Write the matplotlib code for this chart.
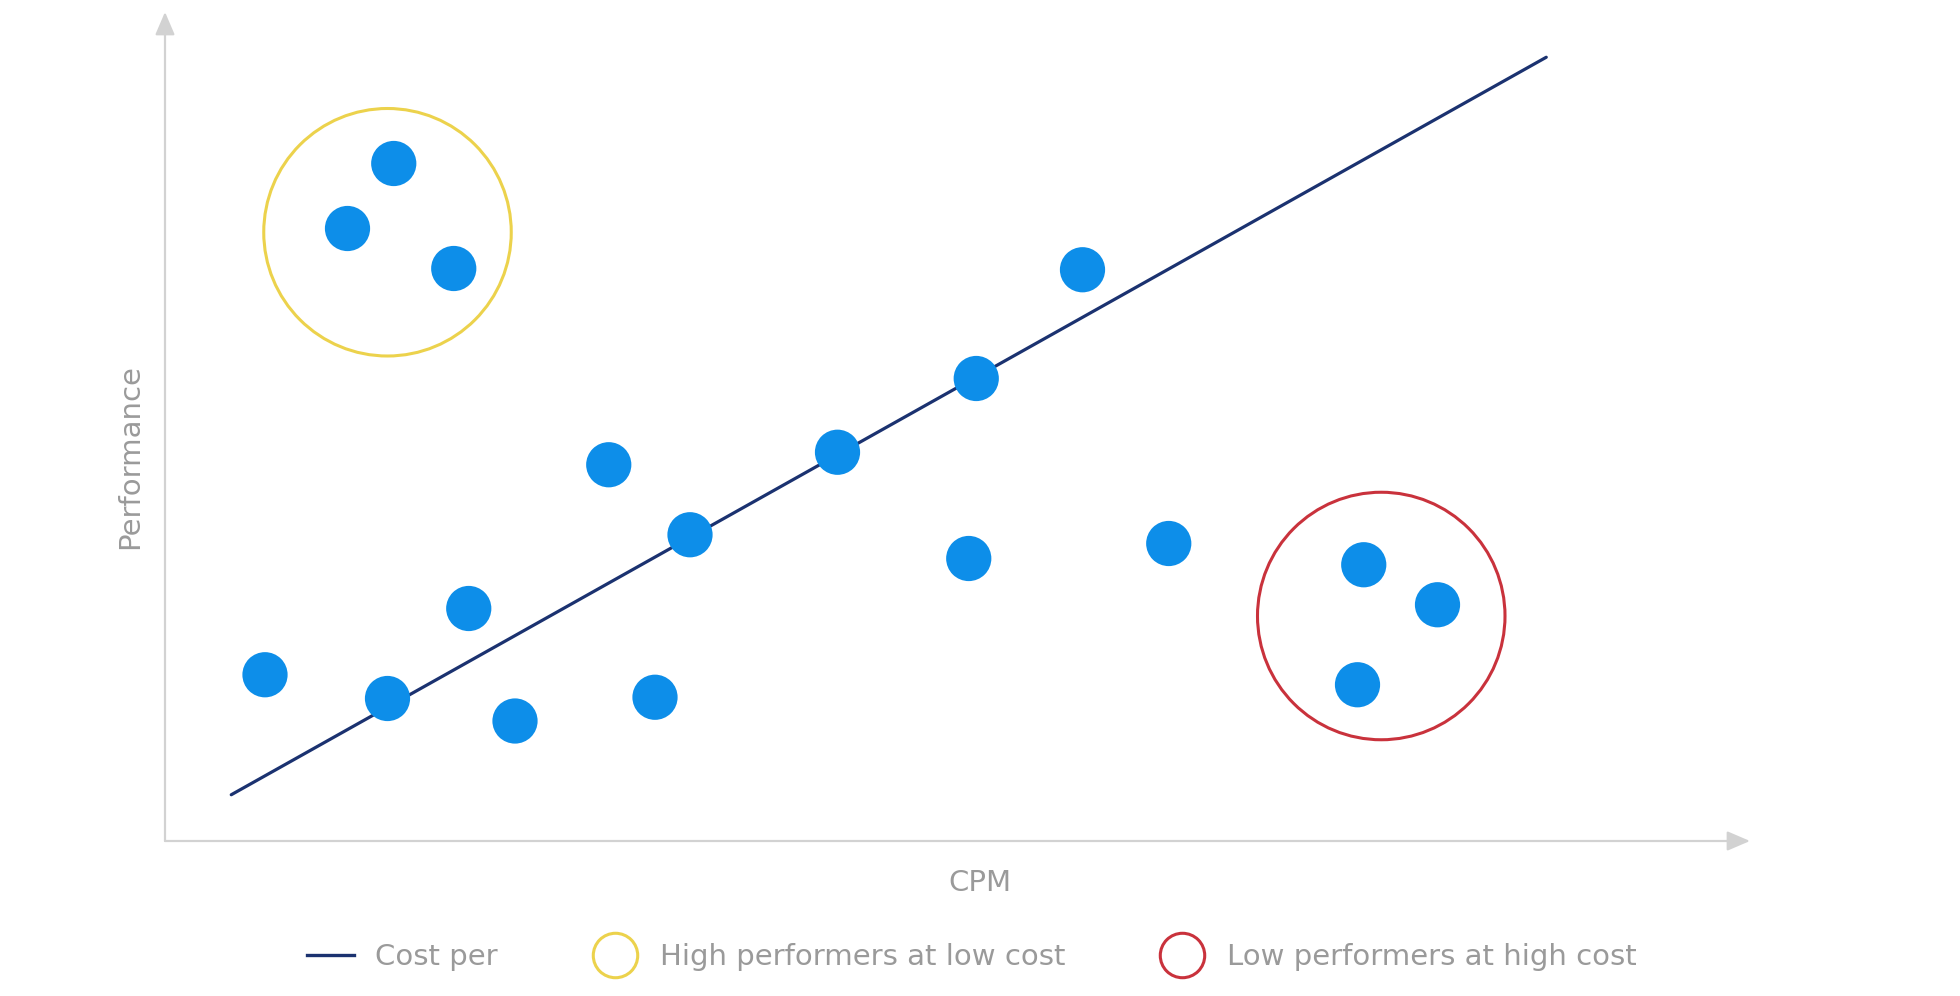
import matplotlib.pyplot as plt
from matplotlib.patches import Circle
from matplotlib.lines import Line2D

# data (arbitrary units, origin at the axis corner)
cpm = [18.3, 14.6, 23.1, 73.4, 64.9, 53.8, 35.5, 42.0, 64.3, 80.3,
       24.3, 8.0, 17.8, 28.0, 39.2, 95.9, 101.8, 95.4]
perf = [54.2, 49.0, 45.8, 45.7, 37.0, 31.1, 30.1, 24.5, 22.6, 23.8,
        18.6, 13.3, 11.4, 9.6, 11.5, 22.1, 18.9, 12.5]

trend_x = [5.3, 110.5]
trend_y = [3.7, 62.7]

groups = ["High performers at low cost", "Low performers at high cost"]
group_cx = [17.8, 97.3]
group_cy = [48.7, 18.0]
group_r = [9.9, 9.9]
group_colors = ["#ecd24c", "#c9323c"]

dot_color = "#0d8ee9"
line_color = "#1b3270"
text_color = "#9a9a9a"
axis_color = "#d2d2d2"

fig = plt.figure(figsize=(19.6, 9.96), dpi=100)
ax = fig.add_axes([165 / 1960, 1 - 841 / 996, (1750 - 165) / 1960, (841 - 12) / 996])
ax.set_xlim(0, (1750 - 165) / 12.5)
ax.set_ylim(0, (841 - 12) / 12.5)
ax.set_aspect("equal")
ax.axis("off")

# axes with arrows
arr = dict(arrowstyle="-|>,head_length=1.4,head_width=0.6", color=axis_color, lw=1.6,
           shrinkA=0, shrinkB=0)
ax.annotate("", xy=(1, 0), xytext=(0, 0), xycoords="axes fraction", arrowprops=arr)
ax.annotate("", xy=(0, 1), xytext=(0, 0), xycoords="axes fraction", arrowprops=arr)

ax.plot(trend_x, trend_y, color=line_color, lw=2.3, solid_capstyle="round", zorder=2)
ax.scatter(cpm, perf, s=1060, color=dot_color, edgecolors="none", zorder=3)

for cx, cy, r, c in zip(group_cx, group_cy, group_r, group_colors):
    ax.add_patch(Circle((cx, cy), r, fill=False, edgecolor=c, lw=2.2, zorder=4))

fig.text(980 / 1960, 1 - 883 / 996, "CPM", color=text_color, fontsize=21,
         ha="center", va="center")
fig.text(130 / 1960, 1 - 457 / 996, "Performance", color=text_color, fontsize=21,
         ha="center", va="center", rotation=90)

handles = [Line2D([], [], color=line_color, lw=2.4)]
for c in group_colors:
    handles.append(Line2D([], [], ls="none", marker="o", markersize=32,
                          markerfacecolor="none", markeredgecolor=c, markeredgewidth=2.2))
labels = ["Cost per"] + groups

leg = fig.legend(handles, labels, loc="center", bbox_to_anchor=(972 / 1960, 1 - 957 / 996),
                 ncol=3, frameon=False, fontsize=21, handlelength=1.6,
                 handletextpad=0.75, columnspacing=3.2, labelcolor=text_color)

fig.savefig("out.png", dpi=100, facecolor="white")
